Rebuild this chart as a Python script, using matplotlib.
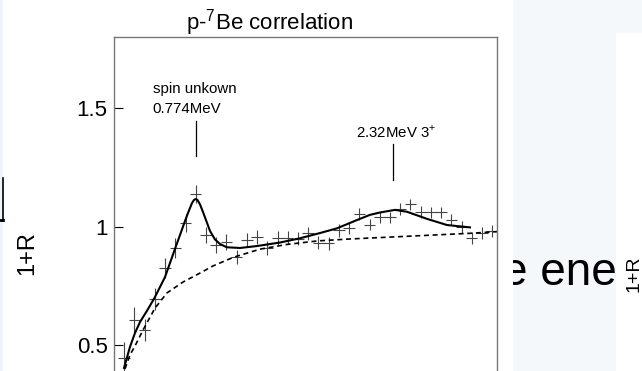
import matplotlib
matplotlib.use("Agg")
import matplotlib.pyplot as plt
from matplotlib.patches import Rectangle
from matplotlib.lines import Line2D

plt.rcParams['font.family'] = ['Liberation Sans', 'DejaVu Sans']
plt.rcParams['mathtext.fontset'] = 'custom'
plt.rcParams['mathtext.rm'] = 'Liberation Sans'

# measured correlation (bin centres, MeV/c)
q = [2.5, 5.0, 7.5, 10.0, 12.5, 15.0, 17.5, 20.0, 22.5, 25.0, 27.5, 30.0, 32.5,
     35.0, 37.5, 40.0, 42.5, 45.0, 47.5, 50.0, 52.5, 55.0, 57.5, 60.0, 62.5,
     65.0, 67.5, 70.0, 72.5, 75.0, 77.5, 80.0, 82.5, 85.0, 87.5, 90.0, 92.5]
one_plus_r = [0.445, 0.606, 0.563, 0.694, 0.825, 0.910, 1.016, 1.138, 0.965,
              0.923, 0.935, 0.872, 0.944, 0.957, 0.910, 0.952, 0.954, 0.950,
              0.972, 0.933, 0.929, 0.984, 0.993, 1.054, 1.009, 1.039, 1.039,
              1.076, 1.094, 1.063, 1.060, 1.060, 1.030, 0.997, 0.951, 0.973,
              0.982]
err = [0.068, 0.056, 0.048, 0.045, 0.043, 0.041, 0.039, 0.037, 0.035, 0.033,
       0.032, 0.031, 0.030, 0.029, 0.029, 0.028, 0.028, 0.027, 0.027, 0.026,
       0.026, 0.026, 0.025, 0.025, 0.025, 0.025, 0.025, 0.025, 0.025, 0.025,
       0.025, 0.025, 0.025, 0.025, 0.025, 0.025, 0.025]
bin_half = 1.4

# fit with resonances
fit_q = [2.45, 3.91, 5.14, 6.36, 8.19, 10.03, 12.47, 14.92, 17.37, 18.10,
         19.08, 19.57, 19.98, 20.42, 21.04, 21.77, 22.67, 23.48, 24.70, 25.92,
         27.57, 30.82, 34.90, 40.59, 45.48, 50.37, 54.53, 59.42, 62.62, 65.06,
         68.73, 71.67, 76.56, 81.45, 87.08]
fit_r = [0.403, 0.492, 0.551, 0.597, 0.648, 0.703, 0.787, 0.906, 1.024, 1.058,
         1.100, 1.113, 1.117, 1.113, 1.094, 1.062, 1.020, 0.982, 0.946, 0.927,
         0.913, 0.910, 0.918, 0.933, 0.951, 0.973, 0.993, 1.028, 1.050, 1.060,
         1.071, 1.063, 1.033, 1.007, 0.997]

# non-resonant part
bg_q = [2.69, 3.91, 5.14, 7.09, 10.03, 12.96, 16.88, 21.04, 24.22, 29.11,
        35.71, 42.32, 49.90, 57.73, 65.06, 72.40, 79.74, 87.08, 93.68]
bg_r = [0.399, 0.458, 0.496, 0.563, 0.656, 0.720, 0.766, 0.804, 0.834, 0.870,
        0.905, 0.925, 0.940, 0.948, 0.954, 0.960, 0.966, 0.972, 0.979]

W, H = 642, 371
fig = plt.figure(figsize=(W / 100, H / 100), dpi=100)

# background pieces of the screenshot
fig.patches.append(Rectangle((513 / W, 0), (W - 513) / W, 1, transform=fig.transFigure,
                             facecolor='#f5f8fb', edgecolor='none', zorder=0))
fig.patches.append(Rectangle((616 / W, 0), (W - 616) / W, 1 - 33 / H, transform=fig.transFigure,
                             facecolor='white', edgecolor='none', zorder=0))
fig.patches.append(Rectangle((0, 0), 3 / W, 1, transform=fig.transFigure,
                             facecolor='#eef3f8', edgecolor='none', zorder=0))
fig.lines.append(Line2D([2.5 / W, 2.5 / W], [1 - 178 / H, 1 - 221 / H],
                        transform=fig.transFigure, color='black', lw=1.2))
fig.lines.append(Line2D([0, 3 / W], [1 - 220 / H, 1 - 220 / H],
                        transform=fig.transFigure, color='black', lw=2))

ax = fig.add_axes([114 / W, 1 - 37.4 / H - 1.5 * 236.6 / H, 383 / W, 1.5 * 236.6 / H])
ax.set_xlim(0, 93.68)
ax.set_ylim(0.3, 1.8)

ax.errorbar(q, one_plus_r, xerr=bin_half, yerr=err, fmt='none',
            ecolor='#444444', elinewidth=0.8, capsize=0)
ax.plot(fit_q, fit_r, color='black', lw=1.5)
ax.plot(bg_q, bg_r, color='black', lw=1.2, dashes=(3, 2.2))

ax.plot([19.98, 19.98], [1.299, 1.447], color='black', lw=0.9)
ax.plot([68.17, 68.17], [1.197, 1.350], color='black', lw=0.9)
ax.text(9.5, 1.565, 'spin unkown', fontsize=10.8, va='baseline')
ax.text(9.5, 1.482, '0.774MeV', fontsize=10.8, va='baseline')
ax.text(59.2, 1.375, r'2.32MeV 3$^{+}$', fontsize=10.8, va='baseline')

ax.set_yticks([0.5, 1, 1.5])
ax.set_yticklabels(['0.5', '1', '1.5'])
ax.tick_params(axis='y', direction='in', length=6.5, width=0.8, pad=4.5,
               labelsize=16, right=False)
ax.tick_params(axis='x', bottom=False, labelbottom=False)
for s in ax.spines.values():
    s.set_color('#777777')
    s.set_linewidth(1.0)

fig.text(270 / W, 1 - 30 / H, r'p-$^{\mathrm{7}}$Be correlation', fontsize=16,
         ha='center', va='baseline')
fig.text(27 / W, 1 - 253 / H, '1+R', fontsize=17, rotation=90,
         ha='center', va='center')

# clipped text fragments on the right
clip = Rectangle((513 / W, 0), (616 - 513) / W, 1, transform=fig.transFigure,
                 facecolor='none', edgecolor='none')
fig.patches.append(clip)
t = fig.text(502 / W, 1 - 285 / H, 'e ene', fontsize=33, ha='left', va='baseline')
t.set_clip_path(clip)
fig.text(633.5 / W, 1 - 274 / H, '1+R', fontsize=14, rotation=90,
         ha='center', va='center')

fig.savefig('out.png', dpi=100)
